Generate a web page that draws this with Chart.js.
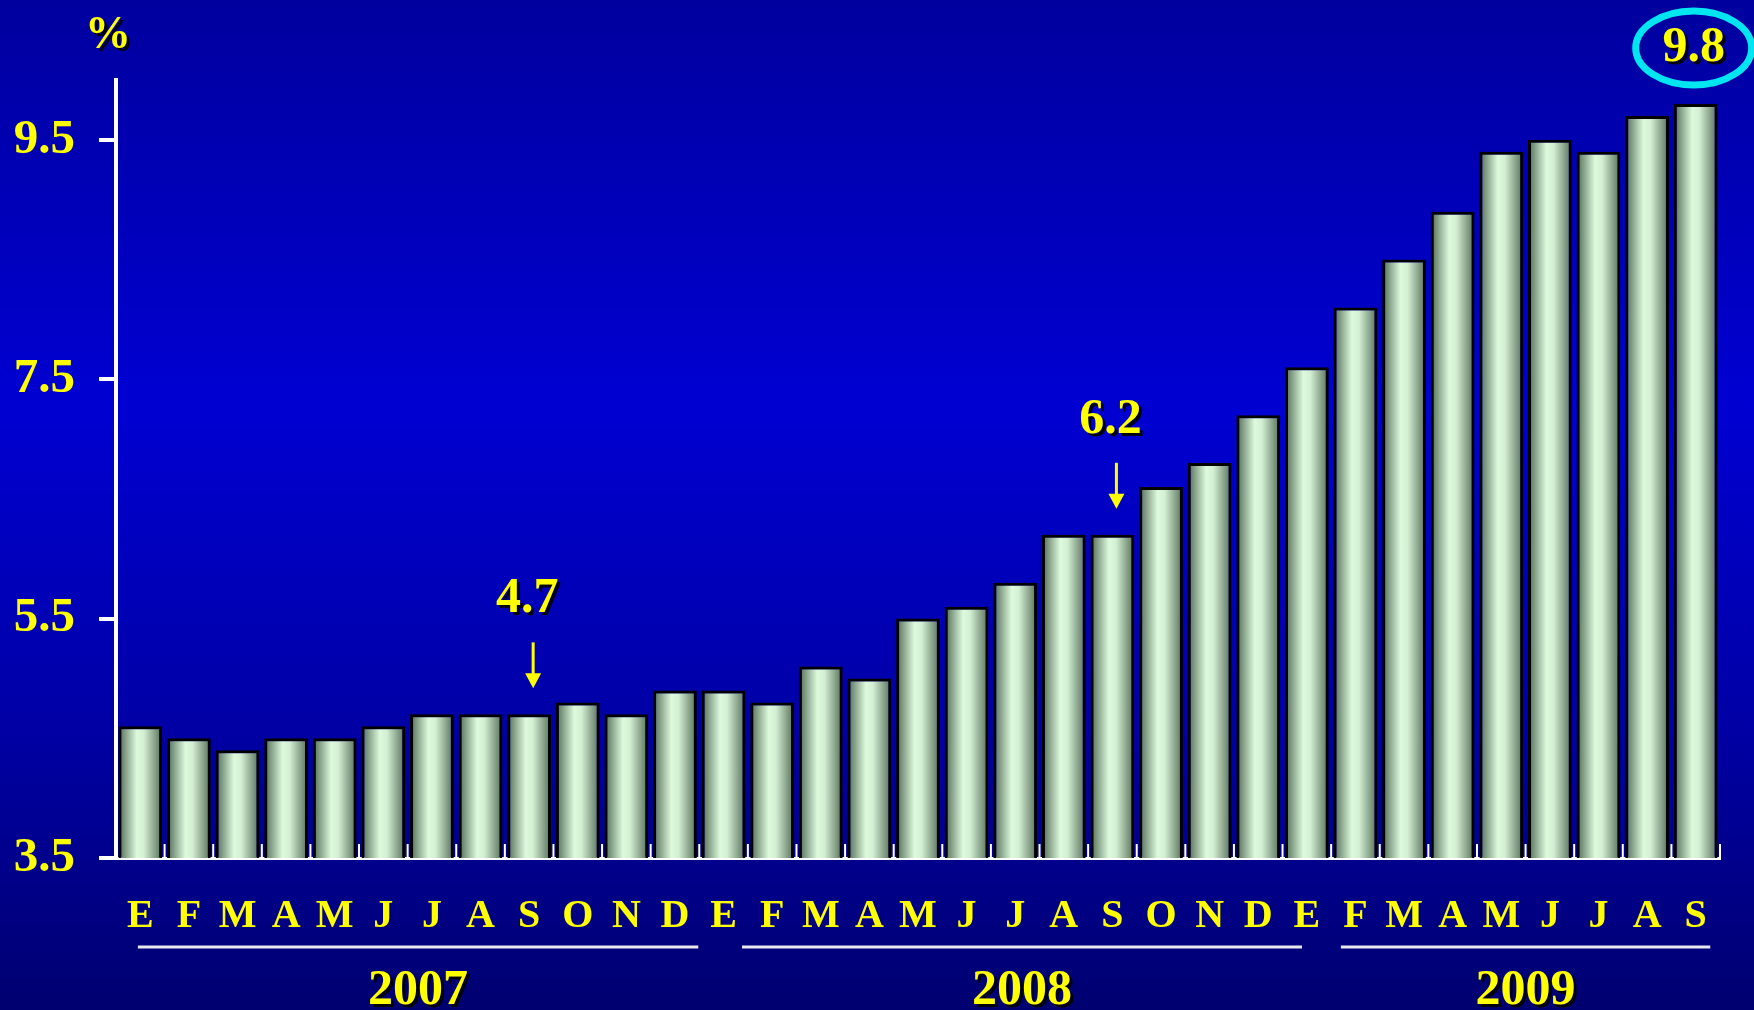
<!DOCTYPE html>
<html>
<head>
<meta charset="utf-8">
<script src="https://cdn.jsdelivr.net/npm/chart.js@4/dist/chart.umd.min.js"></script>
<style>
  html, body { margin: 0; padding: 0; background: #0000a0; }
  #wrap { width: 1754px; height: 1010px; }
</style>
</head>
<body>
<div id="wrap"><canvas id="chart" width="1754" height="1010"></canvas></div>
<script>
// data
const months = ['E','F','M','A','M','J','J','A','S','O','N','D',
                'E','F','M','A','M','J','J','A','S','O','N','D',
                'E','F','M','A','M','J','J','A','S'];
const values = [4.6, 4.5, 4.4, 4.5, 4.5, 4.6, 4.7, 4.7, 4.7, 4.8, 4.7, 4.9,
                4.9, 4.8, 5.1, 5.0, 5.5, 5.6, 5.8, 6.2, 6.2, 6.6, 6.8, 7.2,
                7.6, 8.1, 8.5, 8.9, 9.4, 9.5, 9.4, 9.7, 9.8];
const years = ['2007', '2008', '2009'];
const yTicks = [3.5, 5.5, 7.5, 9.5];
const markedIdx = [8, 20];     // 4.7 and 6.2 with arrows
const circledIdx = 32;         // 9.8 in the ellipse

// where the year underlines run, in category units
const yearFrom = [0.45, 12.88, 25.2];
const yearTo = [11.98, 24.4, 32.8];

const SERIF = "'Liberation Serif', 'Times New Roman', serif";
const YELLOW = '#ffff00';
const BAR_PCT = 0.9;

function barFill(c) {
  const xs = c.chart.scales.x;
  if (!xs || c.dataIndex === undefined) return '#d8f4d8';
  const cx = xs.getPixelForValue(c.dataIndex);
  const w = xs.width / values.length * BAR_PCT;
  if (!isFinite(cx) || !isFinite(w) || w <= 0) return '#d8f4d8';
  const g = c.chart.ctx.createLinearGradient(cx - w / 2, 0, cx + w / 2, 0);
  g.addColorStop(0, '#4e6852');
  g.addColorStop(0.2, '#93ae95');
  g.addColorStop(0.42, '#ddfadd');
  g.addColorStop(0.58, '#d4f0d4');
  g.addColorStop(0.82, '#8ca58d');
  g.addColorStop(1, '#556e57');
  return g;
}

const background = {
  id: 'background',
  beforeDraw(chart) {
    const ctx = chart.ctx;
    const g = ctx.createLinearGradient(0, 0, 0, chart.height);
    g.addColorStop(0, '#00009e');
    g.addColorStop(0.4, '#0000d2');
    g.addColorStop(0.7, '#0000a8');
    g.addColorStop(1, '#000070');
    ctx.save();
    ctx.fillStyle = g;
    ctx.fillRect(0, 0, chart.width, chart.height);
    ctx.restore();
  }
};

function shadowText(ctx, text, x, y, size) {
  ctx.save();
  ctx.font = 'bold ' + size + 'px ' + SERIF;
  ctx.textAlign = 'center';
  ctx.textBaseline = 'middle';
  ctx.shadowColor = 'rgba(0,0,0,0.9)';
  ctx.shadowOffsetX = 3;
  ctx.shadowOffsetY = 3;
  ctx.fillStyle = YELLOW;
  ctx.fillText(text, x, y);
  ctx.restore();
}

const extras = {
  id: 'extras',
  afterDraw(chart) {
    const ctx = chart.ctx;
    const xs = chart.scales.x, ys = chart.scales.y;
    const catW = xs.width / values.length;
    const bottom = ys.bottom;

    // small ticks between the bars
    ctx.save();
    ctx.strokeStyle = '#ffffff';
    ctx.lineWidth = 2;
    for (let i = 1; i <= values.length; i++) {
      const x = xs.left + i * catW;
      ctx.beginPath();
      ctx.moveTo(x, bottom);
      ctx.lineTo(x, bottom - 14);
      ctx.stroke();
    }
    ctx.restore();

    // % label
    shadowText(ctx, '%', 108, 36, 46);

    // year underlines and labels
    years.forEach((yr, k) => {
      const x1 = xs.left + yearFrom[k] * catW;
      const x2 = xs.left + yearTo[k] * catW;
      ctx.save();
      ctx.strokeStyle = '#e8e8f0';
      ctx.lineWidth = 3;
      ctx.beginPath();
      ctx.moveTo(x1, 947);
      ctx.lineTo(x2, 947);
      ctx.stroke();
      ctx.restore();
      shadowText(ctx, yr, (x1 + x2) / 2, 991, 50);
    });

    // arrows with values
    markedIdx.forEach(i => {
      const x = xs.getPixelForValue(i) + 4;
      const top = ys.getPixelForValue(values[i]);
      ctx.save();
      ctx.strokeStyle = YELLOW;
      ctx.fillStyle = YELLOW;
      ctx.lineWidth = 3;
      ctx.beginPath();
      ctx.moveTo(x, top - 72);
      ctx.lineTo(x, top - 38);
      ctx.stroke();
      ctx.beginPath();
      ctx.moveTo(x - 8, top - 41);
      ctx.lineTo(x + 8, top - 41);
      ctx.lineTo(x, top - 26);
      ctx.closePath();
      ctx.fill();
      ctx.restore();
      shadowText(ctx, values[i].toFixed(1), x - 6, top - 115, 50);
    });

    // circled last value
    const cx = xs.getPixelForValue(circledIdx) - 2;
    ctx.save();
    ctx.strokeStyle = '#00e6f0';
    ctx.lineWidth = 7;
    ctx.beginPath();
    ctx.ellipse(cx, 48, 58, 37, 0, 0, Math.PI * 2);
    ctx.stroke();
    ctx.restore();
    shadowText(ctx, values[circledIdx].toFixed(1), cx, 48, 50);
  }
};

new Chart(document.querySelector('#chart').getContext('2d'), {
  type: 'bar',
  data: {
    labels: months,
    datasets: [{
      data: values,
      backgroundColor: barFill,
      borderColor: '#000000',
      borderWidth: 3,
      borderSkipped: 'start',
      barPercentage: BAR_PCT,
      categoryPercentage: 1.0,
    }],
  },
  options: {
    responsive: false,
    animation: false,
    devicePixelRatio: 1,
    layout: { padding: { top: 80, right: 34, bottom: 0, left: 0 } },
    plugins: { legend: { display: false }, tooltip: { enabled: false } },
    scales: {
      x: {
        afterFit: s => { s.height = 152; },
        grid: { display: false },
        border: { display: true, color: '#ffffff', width: 3 },
        ticks: {
          color: YELLOW,
          padding: 27,
          maxRotation: 0,
          autoSkip: false,
          font: { family: SERIF, size: 40, weight: 'bold' },
        },
      },
      y: {
        min: 3.5,
        max: 10,
        afterFit: s => { s.width = 116; },
        afterBuildTicks: s => { s.ticks = yTicks.map(v => ({ value: v })); },
        grid: { drawOnChartArea: false, color: '#ffffff', lineWidth: 4, tickLength: 17 },
        border: { display: true, color: '#ffffff', width: 4 },
        ticks: {
          color: YELLOW,
          padding: 24,
          callback: v => v.toFixed(1),
          font: { family: SERIF, size: 49, weight: 'bold' },
        },
      },
    },
  },
  plugins: [background, extras],
});
</script>
</body>
</html>
